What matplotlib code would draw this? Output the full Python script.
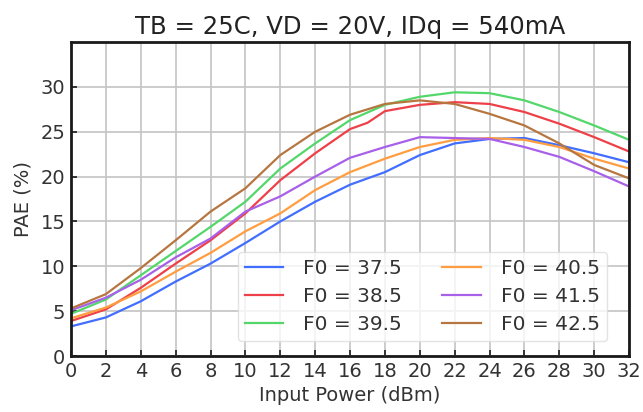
import matplotlib
matplotlib.use("Agg")
import matplotlib.pyplot as plt

# Input drive levels (dBm)
pin = [0, 2, 4, 6, 8, 10, 12, 14, 16, 18, 20, 22, 24, 26, 28, 30, 32]
pin_385 = [0, 2, 4, 6, 8, 10, 12, 14, 16, 17, 18, 20, 22, 24, 26, 28, 30, 32]

# PAE (%) per centre frequency (GHz)
pae_375 = [3.3, 4.3, 6.1, 8.3, 10.3, 12.6, 15.0, 17.2, 19.1, 20.5, 22.4, 23.7, 24.2, 24.3, 23.5, 22.6, 21.6]
pae_385 = [3.9, 5.2, 7.6, 10.3, 12.9, 15.9, 19.6, 22.6, 25.3, 26.0, 27.3, 28.0, 28.3, 28.1, 27.2, 25.9, 24.4, 22.8]
pae_395 = [4.7, 6.3, 9.0, 11.7, 14.4, 17.2, 20.9, 23.7, 26.3, 28.0, 28.9, 29.4, 29.3, 28.5, 27.2, 25.7, 24.1]
pae_405 = [4.2, 5.4, 7.2, 9.4, 11.5, 13.9, 15.9, 18.5, 20.5, 22.0, 23.3, 24.1, 24.3, 24.1, 23.3, 22.0, 20.9]
pae_415 = [5.1, 6.5, 8.5, 11.0, 13.1, 16.1, 17.8, 20.0, 22.1, 23.3, 24.4, 24.3, 24.2, 23.3, 22.2, 20.6, 18.9]
pae_425 = [5.3, 6.9, 9.8, 12.9, 16.1, 18.7, 22.4, 25.0, 26.9, 28.1, 28.5, 28.1, 27.0, 25.7, 23.7, 21.3, 19.8]

series = [
    ("F0 = 37.5", pin, pae_375, "#416eff"),
    ("F0 = 38.5", pin_385, pae_385, "#ee4048"),
    ("F0 = 39.5", pin, pae_395, "#53d76a"),
    ("F0 = 40.5", pin, pae_405, "#ff9d40"),
    ("F0 = 41.5", pin, pae_415, "#a860e9"),
    ("F0 = 42.5", pin, pae_425, "#b77640"),
]

x_ticks = list(range(0, 33, 2))
y_ticks = list(range(0, 31, 5))

fig = plt.figure(figsize=(6.43, 4.12), dpi=100)
ax = fig.add_axes([0.1104, 0.1359, 0.868, 0.762])

for label, xs, ys, color in series:
    ax.plot(xs, ys, color=color, lw=1.6, label=label)

ax.set_xlim(0, 32)
ax.set_ylim(0, 35)
ax.set_xticks(x_ticks)
ax.set_yticks(y_ticks)
ax.grid(True, color="#c4c4c4", lw=1.2)
ax.set_axisbelow(True)
for sp in ax.spines.values():
    sp.set_linewidth(2.0)
    sp.set_color("#1a1a1a")
ax.tick_params(direction="in", length=4, width=1.2, labelsize=14, colors="#1a1a1a",
               labelcolor="#333333", pad=4)

ax.set_xlabel("Input Power (dBm)", fontsize=14, color="#333333", labelpad=4)
ax.set_ylabel("PAE (%)", fontsize=14, color="#333333", labelpad=6)
ax.set_title("TB = 25C, VD = 20V, IDq = 540mA", fontsize=17.6, color="#222222", pad=6)

leg = ax.legend(loc="lower right", ncol=2, fontsize=14.5, frameon=True,
                borderpad=0.35, labelspacing=0.45, handlelength=1.9,
                handletextpad=1.0, columnspacing=2.0,
                bbox_to_anchor=(0.978, 0.015))
leg.get_frame().set_edgecolor("#dddddd")
for t in leg.get_texts():
    t.set_color("#333333")

fig.savefig("out.png", dpi=100)
